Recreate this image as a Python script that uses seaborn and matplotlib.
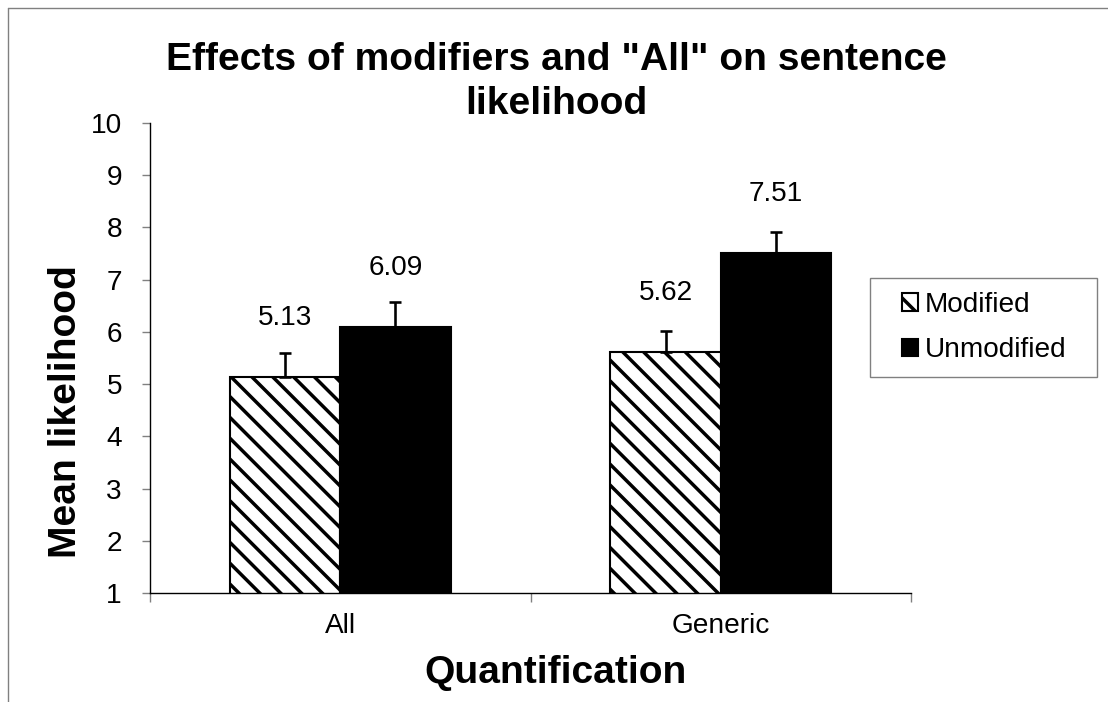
import numpy as np
import pandas as pd
import seaborn as sns
import matplotlib.pyplot as plt
from matplotlib.lines import Line2D
from matplotlib.patches import Rectangle

quantification = ['All', 'Generic']
conditions = ['Modified', 'Unmodified']
modified_means = [5.13, 5.62]
unmodified_means = [6.09, 7.51]
modified_err = [0.47, 0.40]
unmodified_err = [0.48, 0.41]
y_ticks = [1, 2, 3, 4, 5, 6, 7, 8, 9, 10]

DPI = 125
W, H = 1108, 702


def pt(px):
    # pixel size -> points at this dpi
    return px * 72 / DPI


sns.set_style('white')
plt.rcParams['font.family'] = ['Liberation Sans', 'DejaVu Sans']
plt.rcParams['text.color'] = 'black'
plt.rcParams['axes.labelcolor'] = 'black'
plt.rcParams['xtick.color'] = 'black'
plt.rcParams['ytick.color'] = 'black'
plt.rcParams['hatch.linewidth'] = 2.0
plt.rcParams['hatch.color'] = 'black'

df = pd.DataFrame({
    'Quantification': quantification * 2,
    'Condition': [conditions[0]] * 2 + [conditions[1]] * 2,
    'Mean': modified_means + unmodified_means,
    'Err': modified_err + unmodified_err,
})

fig = plt.figure(figsize=(W / DPI, H / DPI), dpi=DPI)
ax = fig.add_axes([150 / W, 1 - 593 / H, (911 - 150) / W, (593 - 123) / H])

sns.barplot(data=df, x='Quantification', y='Mean', hue='Condition',
            hue_order=conditions, order=quantification,
            palette=['white', 'black'], width=0.58, errorbar=None,
            edgecolor='black', linewidth=1.2, legend=False, ax=ax)

bar_groups = list(ax.containers)
for bar in bar_groups[0]:
    bar.set_hatch('\\\\')

# upward-only error bars and value labels
for cont, cond in zip(bar_groups, conditions):
    sub = df[df['Condition'] == cond]
    xs = [b.get_x() + b.get_width() / 2 for b in cont]
    ys = list(sub['Mean'])
    errs = list(sub['Err'])
    ax.errorbar(xs, ys, yerr=[np.zeros(len(errs)), errs], fmt='none',
                ecolor='black', elinewidth=1.5, capsize=pt(6), capthick=1.5,
                zorder=5)
    for x, y in zip(xs, ys):
        ax.annotate(f'{y:.2f}', (x, y), xytext=(0, pt(59)),
                    textcoords='offset points', ha='center', va='center',
                    fontsize=pt(28), color='black')

ax.set_ylim(1, 10)
ax.set_xlim(-0.5, 1.5)
ax.set_yticks(y_ticks)
ax.set_xticks([0, 1])
ax.set_xticklabels(quantification)
ax.set_xticks([-0.5, 0.5, 1.5], minor=True)
ax.tick_params(axis='y', which='major', direction='out', length=pt(8),
               width=0.8, color='#808080', labelcolor='black', left=True,
               labelsize=pt(28), pad=pt(20))
ax.tick_params(axis='x', which='major', length=0, labelsize=pt(28),
               labelcolor='black', pad=pt(20))
ax.tick_params(axis='x', which='minor', direction='out', length=pt(9),
               width=0.8, color='#808080', bottom=True)
ax.set_xlabel('')
ax.set_ylabel('')
for side in ['top', 'right']:
    ax.spines[side].set_visible(False)
for side in ['left', 'bottom']:
    ax.spines[side].set_color('black')
    ax.spines[side].set_linewidth(0.8)

fig.text(556 / W, 1 - 114 / H,
         'Effects of modifiers and "All" on sentence\nlikelihood',
         ha='center', va='baseline', fontsize=pt(39), fontweight='bold',
         linespacing=1.3, color='black')
fig.text(556 / W, 1 - 683 / H, 'Quantification', ha='center',
         va='baseline', fontsize=pt(39), fontweight='bold', color='black')
fig.text(66 / W, 1 - 412 / H, 'Mean likelihood', rotation=90, ha='center',
         va='center', fontsize=pt(39), fontweight='bold', color='black')

# legend with its own box
fig.legend(handles=[c.patches[0] for c in bar_groups], labels=conditions,
           loc='center left', bbox_to_anchor=(902 / W, 1 - 327.5 / H),
           frameon=False, borderpad=0, borderaxespad=0,
           handlelength=0.57, handleheight=0.57, handletextpad=0.25,
           labelspacing=0.68, fontsize=pt(28), labelcolor='black')
fig.patches.append(Rectangle((870 / W, 1 - 377 / H), 227 / W, 99 / H,
                             transform=fig.transFigure, fill=False,
                             edgecolor='#808080', linewidth=0.8))

# chart area border (top and left visible)
fig.add_artist(Line2D([8 / W, 1], [1 - 8 / H, 1 - 8 / H],
                      transform=fig.transFigure, color='#808080', lw=0.8))
fig.add_artist(Line2D([8 / W, 8 / W], [0, 1 - 8 / H],
                      transform=fig.transFigure, color='#808080', lw=0.8))

fig.savefig('out.png', dpi=DPI)
